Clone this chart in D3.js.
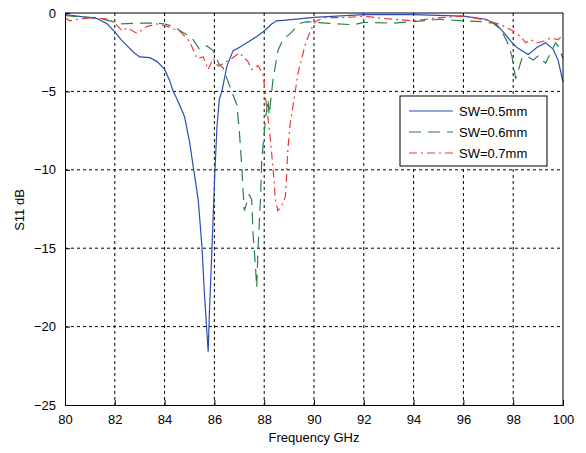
<!DOCTYPE html>
<html>
<head>
<meta charset="utf-8">
<script src="https://cdn.jsdelivr.net/npm/d3@7"></script>
<style>
  body { margin: 0; background: #fff; }
  text { font-family: "Liberation Sans", Arial, sans-serif; }
</style>
</head>
<body>
<svg width="586" height="453"></svg>
<script>
// S11 vs frequency, three slot widths
var xTicks = [80, 82, 84, 86, 88, 90, 92, 94, 96, 98, 100]
var yTicks = [0, -5, -10, -15, -20, -25]
var names = ["SW=0.5mm", "SW=0.6mm", "SW=0.7mm"]

var sw05 = [[80,-0.1],[81.3,-0.36],[81.7,-0.7],[82,-1.2],[82.25,-1.7],[82.5,-2.1],[82.75,-2.5],[83,-2.8],
  [83.4,-2.85],[83.7,-3.1],[84,-3.6],[84.2,-4.3],[84.35,-5],[84.5,-5.5],[84.8,-6.6],[85.0,-8.2],
  [85.15,-9.8],[85.35,-11.9],[85.5,-14.9],[85.6,-17.9],[85.7,-20.4],[85.75,-21.6],
  [85.8,-19.1],[85.9,-15.1],[86.0,-10.9],[86.1,-7.3],[86.2,-5.5],[86.3,-5],[86.5,-3.4],[86.75,-2.4],
  [87.0,-2.2],[87.4,-1.8],[87.7,-1.5],[88.0,-1.15],[88.3,-0.7],[88.5,-0.5],[88.9,-0.45],[90,-0.28],
  [92,-0.1],[94,-0.1],[96,-0.2],[96.9,-0.4],[97.3,-0.7],[97.6,-1.2],[97.9,-1.8],[98.15,-2.2],
  [98.6,-2.65],[98.95,-2.2],[99.3,-1.9],[99.6,-2.3],[99.8,-3.0],[100,-4.4]]

var sw06 = [[80,-0.15],[80.6,-0.25],[81.3,-0.3],[81.8,-0.5],[82.2,-0.7],[83,-0.65],[83.7,-0.65],
  [84,-0.7],[84.35,-0.85],[85.1,-1.6],[85.4,-2.3],[85.7,-2.1],[85.95,-2.4],[86.2,-3.3],[86.35,-3.5],
  [86.6,-4.6],[86.9,-5.85],[87.0,-7.5],[87.1,-9.8],[87.15,-11.3],[87.2,-12.6],[87.4,-11.6],
  [87.5,-11.9],[87.55,-14.0],[87.65,-16.2],[87.7,-17.5],[87.75,-15.1],[87.85,-11.9],[87.9,-9.4],
  [88.05,-6.8],[88.15,-5.5],[88.2,-6.5],[88.35,-4.3],[88.55,-2.4],[88.75,-1.7],[89.05,-1.3],
  [89.45,-0.65],[89.7,-0.55],[90.5,-0.65],[91.6,-0.75],[92,-0.6],[93.2,-0.65],[94,-0.55],
  [95.05,-0.4],[96,-0.5],[96.7,-0.55],[97.2,-0.65],[97.5,-1.05],[97.75,-1.8],[97.95,-2.75],
  [98.1,-4.2],[98.35,-2.9],[98.55,-2.75],[98.8,-3.0],[99.0,-2.75],[99.3,-3.2],[99.5,-2.55],
  [99.7,-1.9],[99.8,-2.1],[100,-2.9]]

var sw07 = [[80,-0.3],[80.2,-0.5],[80.5,-0.4],[81.1,-0.3],[81.8,-0.4],[82,-0.65],[82.3,-1.15],
  [82.5,-0.95],[82.9,-1.3],[83.3,-0.85],[83.7,-0.7],[84.1,-0.85],[84.6,-1.15],[85.0,-1.8],
  [85.15,-2.35],[85.3,-2.9],[85.55,-2.8],[85.75,-3.6],[85.95,-2.9],[86.15,-3.4],[86.7,-2.9],
  [87.0,-2.55],[87.35,-3.1],[87.5,-3.6],[87.75,-3.35],[87.95,-3.9],[88.0,-4.5],[88.1,-6.1],
  [88.2,-7.25],[88.35,-9.8],[88.45,-11.9],[88.55,-12.6],[88.7,-12.3],[88.85,-11.7],[88.9,-10.4],
  [88.95,-8.7],[89.05,-7.0],[89.2,-5.5],[89.35,-3.9],[89.65,-2.0],[89.85,-1.15],[90.05,-0.55],
  [90.4,-0.3],[91.2,-0.3],[92,-0.2],[92.8,-0.35],[94,-0.5],[95.05,-0.3],[96,-0.2],[96.9,-0.45],
  [97.5,-0.75],[98.0,-1.15],[98.3,-1.5],[98.5,-1.9],[98.7,-1.7],[98.95,-1.9],[99.2,-1.8],
  [99.5,-1.6],[99.8,-1.7],[100,-1.4]]

var series = [sw05, sw06, sw07]
var colors = ["#2c4fb5", "#2b8048", "#f03a3a"]
var dashes = [null, "12,7", "8,4,2,4"]

var svg = d3.select("svg")
var pl = 65, pt = 13, pr = 563, pb = 405

var x = d3.scaleLinear().domain([80, 100]).range([pl, pr])
var y = d3.scaleLinear().domain([-25, 0]).range([pb, pt])

// grid
var grid = svg.append("g")
grid.selectAll(".gx").data(xTicks.slice(1, -1)).enter().append("line")
  .attr("x1", function (d) { return x(d) }).attr("x2", function (d) { return x(d) })
  .attr("y1", pt).attr("y2", pb)
  .attr("stroke", "#000").attr("stroke-dasharray", "3,3")
grid.selectAll(".gy").data(yTicks.slice(1, -1)).enter().append("line")
  .attr("y1", function (d) { return y(d) }).attr("y2", function (d) { return y(d) })
  .attr("x1", pl).attr("x2", pr)
  .attr("stroke", "#000").attr("stroke-dasharray", "3,3")

// curves
var line = d3.line()
  .x(function (d) { return x(d[0]) })
  .y(function (d) { return y(d[1]) })

series.forEach(function (s, i) {
  svg.append("path")
    .datum(s)
    .attr("d", line)
    .attr("fill", "none")
    .attr("stroke", colors[i])
    .attr("stroke-width", 1.2)
    .attr("stroke-dasharray", dashes[i])
})

// axes (ticks inside, like matlab)
svg.append("g")
  .attr("transform", "translate(0," + pb + ")")
  .call(d3.axisBottom(x).tickValues(xTicks).tickSize(-5).tickPadding(10))
  .call(function (g) {
    g.select(".domain").attr("stroke", "#000")
    g.selectAll("text").attr("font-size", "13px").attr("fill", "#000")
  })
svg.append("g")
  .attr("transform", "translate(" + pl + ",0)")
  .call(d3.axisLeft(y).tickValues(yTicks).tickSize(-5).tickPadding(9))
  .call(function (g) {
    g.select(".domain").attr("stroke", "#000")
    g.selectAll("text").attr("font-size", "13px").attr("fill", "#000")
  })

// top and right box lines
svg.append("line").attr("x1", pl).attr("x2", pr).attr("y1", pt).attr("y2", pt).attr("stroke", "#000")
svg.append("line").attr("x1", pr).attr("x2", pr).attr("y1", pt).attr("y2", pb).attr("stroke", "#000")

// axis titles
svg.append("text")
  .attr("x", (pl + pr) / 2)
  .attr("y", 442)
  .attr("text-anchor", "middle")
  .attr("font-size", "13px")
  .text("Frequency GHz")

svg.append("text")
  .attr("transform", "translate(24," + 210 + ") rotate(-90)")
  .attr("text-anchor", "middle")
  .attr("font-size", "13px")
  .text("S11 dB")

// legend
var lg = svg.append("g").attr("transform", "translate(400,96)")
lg.append("rect").attr("width", 147).attr("height", 70)
  .attr("fill", "#fff").attr("stroke", "#000")
names.forEach(function (n, i) {
  var yy = 15 + i * 21
  lg.append("line").attr("x1", 9).attr("x2", 53).attr("y1", yy).attr("y2", yy)
    .attr("stroke", colors[i]).attr("stroke-width", 1.2)
    .attr("stroke-dasharray", dashes[i])
  lg.append("text").attr("x", 59).attr("y", yy + 5)
    .attr("font-size", "13px")
    .text(n)
})
</script>
</body>
</html>
